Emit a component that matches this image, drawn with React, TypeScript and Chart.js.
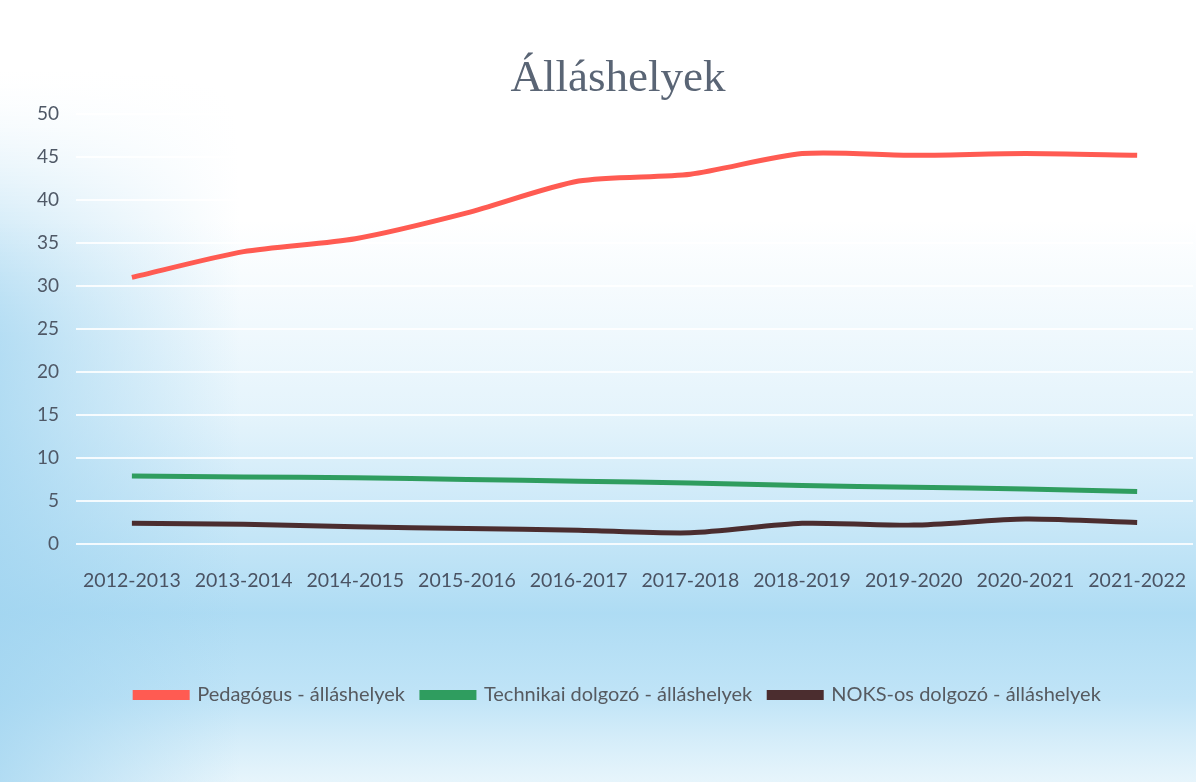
import React, { useEffect, useRef } from "react";
import { Chart, registerables } from "chart.js";

Chart.register(...registerables);

const categories = [
  "2012-2013", "2013-2014", "2014-2015", "2015-2016", "2016-2017",
  "2017-2018", "2018-2019", "2019-2020", "2020-2021", "2021-2022",
];
const pedagogus = [31, 34, 35.5, 38.5, 42.2, 43, 45.4, 45.2, 45.4, 45.2];
const technikai = [7.9, 7.8, 7.7, 7.5, 7.3, 7.1, 6.8, 6.6, 6.4, 6.1];
const noks = [2.4, 2.3, 2.0, 1.8, 1.6, 1.3, 2.4, 2.2, 2.9, 2.5];
const yTicks = [0, 5, 10, 15, 20, 25, 30, 35, 40, 45, 50];

const bgPlugin = {
  id: "bg",
  beforeDraw(chart: any) {
    const { ctx, width, height } = chart;
    ctx.save();
    ctx.fillStyle = "#ffffff";
    ctx.fillRect(0, 0, width, height);
    const g = ctx.createLinearGradient(0, 220, 0, height);
    g.addColorStop(0, "rgba(178,222,245,0)");
    g.addColorStop(0.35, "rgba(178,222,245,0.35)");
    g.addColorStop(0.7, "rgba(170,218,243,0.95)");
    g.addColorStop(0.85, "rgba(185,225,246,0.9)");
    g.addColorStop(1, "rgba(220,240,250,0.7)");
    ctx.fillStyle = g;
    ctx.fillRect(0, 0, width, height);
    const step = 4;
    for (let y = 60; y < height; y += step) {
      const t = Math.min(1, Math.max(0, (y - 60) / 300));
      const a = t * t * (3 - 2 * t);
      const g2 = ctx.createLinearGradient(0, 0, 240, 0);
      g2.addColorStop(0, `rgba(160,212,240,${0.75 * a})`);
      g2.addColorStop(1, "rgba(160,212,240,0)");
      ctx.fillStyle = g2;
      ctx.fillRect(0, y, 240, step);
    }
    ctx.restore();
  },
};

export default function App() {
  const ref = useRef<HTMLCanvasElement>(null);
  useEffect(() => {
    document.body.style.margin = "0";
    const chart = new Chart(ref.current!, {
      type: "line",
      data: {
        labels: categories,
        datasets: [
          {
            label: "Pedagógus - álláshelyek",
            data: pedagogus,
            borderColor: "#ff5b52",
            backgroundColor: "#ff5b52",
            borderWidth: 5,
            pointRadius: 0,
            tension: 0.25,
          },
          {
            label: "Technikai dolgozó - álláshelyek",
            data: technikai,
            borderColor: "#2f9d5f",
            backgroundColor: "#2f9d5f",
            borderWidth: 5,
            pointRadius: 0,
            tension: 0.25,
          },
          {
            label: "NOKS-os dolgozó - álláshelyek",
            data: noks,
            borderColor: "#4b2d2f",
            backgroundColor: "#4b2d2f",
            borderWidth: 5,
            pointRadius: 0,
            tension: 0.25,
          },
        ],
      },
      options: {
        animation: false,
        responsive: false,
        layout: { padding: { top: 52, left: 20, right: -20, bottom: 67 } },
        plugins: {
          title: {
            display: true,
            text: "Álláshelyek",
            color: "#5a6575",
            font: { family: "'Liberation Serif', 'DejaVu Serif', serif", size: 45, weight: "normal" },
            padding: { top: 0, bottom: 8 },
          },
          legend: {
            position: "bottom",
            labels: {
              boxWidth: 52,
              boxHeight: 5,
              color: "#565a60",
              font: { family: "Lato, 'Open Sans', sans-serif", size: 20 },
              padding: 17,
            },
          },
          tooltip: { enabled: false },
        },
        scales: {
          x: {
            offset: true,
            grid: { display: false, drawTicks: false },
            border: { display: false },
            ticks: {
              color: "#4a5363",
              font: { family: "Lato, 'Open Sans', sans-serif", size: 19.5 },
              padding: 25,
              maxRotation: 0,
              autoSkip: false,
            },
            afterFit(scale: any) {
              scale.height = 124;
              scale.paddingRight = 3;
            },
          },
          y: {
            min: 0,
            max: 50,
            afterBuildTicks(scale: any) {
              scale.ticks = yTicks.map((v) => ({ value: v }));
            },
            grid: { color: "rgba(255,255,255,0.85)", lineWidth: 2, drawTicks: false },
            border: { display: false },
            ticks: {
              color: "#4f5866",
              font: { family: "Lato, 'Open Sans', sans-serif", size: 19 },
              padding: 17,
            },
          },
        },
      },
      plugins: [bgPlugin],
    });
    return () => chart.destroy();
  }, []);
  return <canvas ref={ref} width={1196} height={782} style={{ display: "block" }} />;
}
